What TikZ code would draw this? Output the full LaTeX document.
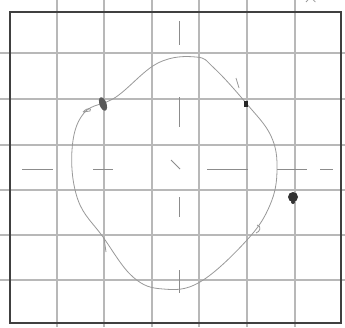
\documentclass[tikz,border=0pt]{standalone}
\usetikzlibrary{calc}
\begin{document}
\begin{tikzpicture}[x=1pt,y=-1pt,
  gridline/.style={draw=black!28,line width=1.3pt},
  frame/.style={draw=black!75,line width=2pt},
  axisdash/.style={draw=black!45,line width=1pt},
  sketch/.style={draw=black!40,line width=0.8pt},
  blob/.style={fill=black!65,draw=none}]
\useasboundingbox (0,0) rectangle (345,327);
\fill[white] (0,0) rectangle (345,327);
% grid
\foreach \x in {57,104,152,199,247,295}
  \draw[gridline] (\x,0) -- (\x,327);
\foreach \y in {53,99,145,190,235,280}
  \draw[gridline] (0,\y) -- (345,\y);
% frame
\draw[frame] (10,12) -- (341,12) -- (341,323) -- (10,323) -- cycle;
% center dashed axes
\draw[axisdash] (179,21) -- (179,45);
\draw[axisdash] (179,97) -- (179,127);
\draw[axisdash] (179,197) -- (179,217);
\draw[axisdash] (179,270) -- (179,293);
\draw[axisdash] (22,169) -- (53,169);
\draw[axisdash] (93,169) -- (113,169);
\draw[axisdash] (171,160) -- (180,169);
\draw[axisdash] (207,169) -- (248,169);
\draw[axisdash] (277,169) -- (307,169);
\draw[axisdash] (320,169) -- (333,169);
% closed curve
\draw[sketch] plot[smooth cycle,tension=0.65] coordinates {
  (196,57) (158,63) (116,97) (84,113) (72,150) (78,200) (103,237)
  (133,277) (163,289) (200,282) (247,240) (270,205) (277,170)
  (271,136) (246,103) (214,68)};
% marks
\coordinate (pa) at (103,104);
\coordinate (pb) at (246,104);
\coordinate (pc) at (293,197);
\fill[blob,rotate around={20:(pa)}] (pa) ellipse (3.5pt and 7pt);
\fill[black!85] ($(pb)+(-2,-3)$) rectangle ($(pb)+(2,3)$);
\fill[black!80] (pc) circle (5pt);
\fill[black!80] ($(pc)+(0,5)$) circle (2pt);
\draw[sketch] (83,112) .. controls (88,107) and (92,108) .. (90,111) -- (83,112);
\draw[sketch] (236,78) -- (239,88);
\draw[sketch] (104,238) -- (106,252);
\draw[sketch] (257,225) .. controls (262,226) and (260,232) .. (256,233);
\draw[sketch] (306,2) arc (200:340:5);
\end{tikzpicture}
\end{document}
